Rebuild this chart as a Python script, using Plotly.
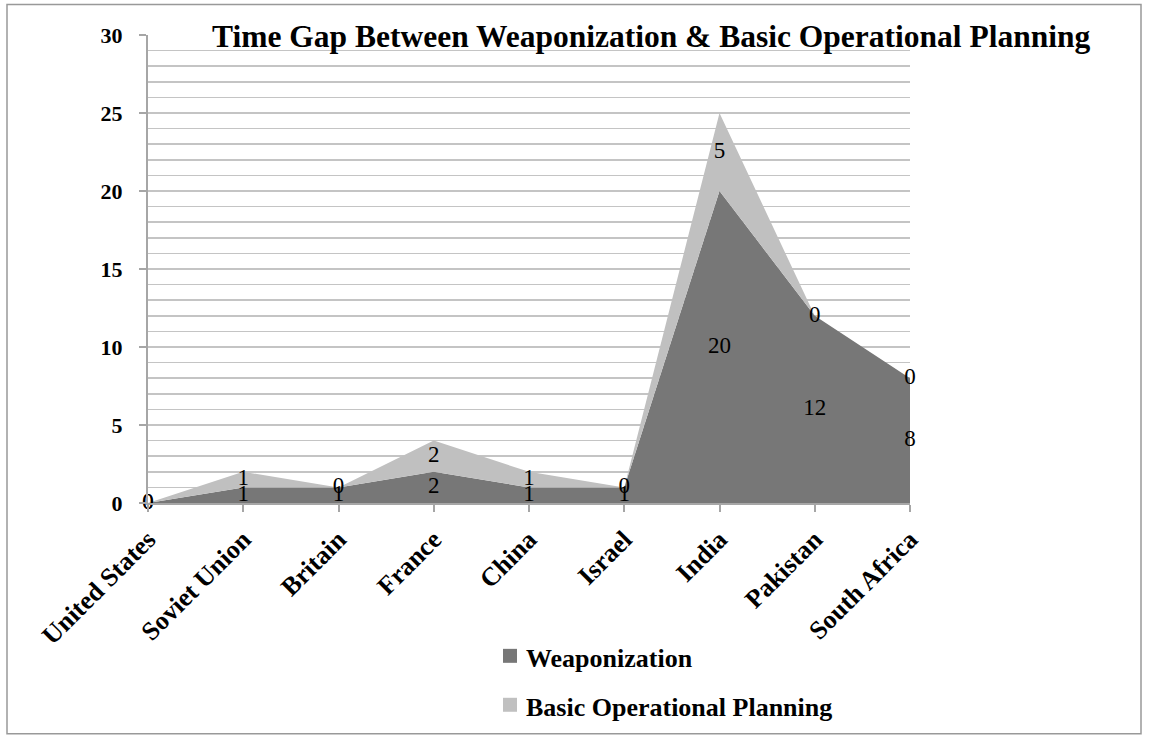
import plotly.graph_objects as go

countries = ["United States", "Soviet Union", "Britain", "France", "China",
             "Israel", "India", "Pakistan", "South Africa"]
weaponization = [0, 1, 1, 2, 1, 1, 20, 12, 8]
basic_planning = [0, 1, 0, 2, 1, 0, 5, 0, 0]
series_names = ["Weaponization", "Basic Operational Planning"]
y_ticks = [0, 5, 10, 15, 20, 25, 30]

FONT = "Liberation Serif"
DARK = "#777777"
LIGHT = "#c0c0c0"
GRID = "#c4c4c4"
AXIS = "#a6a6a6"

xs = list(range(len(countries)))

fig = go.Figure()
fig.add_trace(go.Scatter(x=xs, y=weaponization, stackgroup="s", mode="none",
                         fillcolor=DARK, name=series_names[0], showlegend=False,
                         hoverinfo="skip"))
fig.add_trace(go.Scatter(x=xs, y=basic_planning, stackgroup="s", mode="none",
                         fillcolor=LIGHT, name=series_names[1],
                         showlegend=False, hoverinfo="skip"))

# data labels centred in each band
w_mid = [w / 2 for w in weaponization]
b_mid = [w + b / 2 for w, b in zip(weaponization, basic_planning)]
lab_font = dict(family=FONT, size=23, color="black")
fig.add_trace(go.Scatter(x=xs, y=w_mid, mode="text", text=[str(v) for v in weaponization],
                         textfont=lab_font, showlegend=False, hoverinfo="skip",
                         cliponaxis=False))
fig.add_trace(go.Scatter(x=xs, y=b_mid, mode="text", text=[str(v) for v in basic_planning],
                         textfont=lab_font, showlegend=False, hoverinfo="skip",
                         cliponaxis=False))

W, H = 1149, 736
L, T = 148, 34.5
PR, PB = 910, 503
R, B = W - PR, H - PB
pw = PR - L
ph = PB - T


def px(x):
    return (x - L) / pw


def py(y):
    return (PB - y) / ph


# legend drawn as swatches + labels (kept inside the figure so it does not
# push the plot margins)
legend_rows = [(656, DARK, series_names[0]), (705, LIGHT, series_names[1])]
shapes = [dict(type="rect", xref="paper", yref="paper",
               x0=px(7), x1=px(1141), y0=py(734), y1=py(4),
               line=dict(color="#999999", width=1.5), fillcolor="rgba(0,0,0,0)",
               layer="below")]
annotations = [dict(text="<b>Time Gap Between Weaponization &amp; Basic Operational Planning</b>",
                    xref="paper", yref="paper", x=px(651), y=py(36),
                    xanchor="center", yanchor="middle", showarrow=False,
                    font=dict(family=FONT, size=31.5, color="black"))]
for cy, col, name in legend_rows:
    shapes.append(dict(type="rect", xref="paper", yref="paper",
                       x0=px(503), x1=px(517), y0=py(cy + 7), y1=py(cy - 7),
                       line=dict(width=0), fillcolor=col))
    annotations.append(dict(text=f"<b>{name}</b>", xref="paper", yref="paper",
                            x=px(524), y=py(cy + 3), xanchor="left", yanchor="middle",
                            showarrow=False,
                            font=dict(family=FONT, size=26, color="black")))

fig.update_layout(
    width=W, height=H,
    margin=dict(l=L, r=R, t=T, b=B, pad=0),
    paper_bgcolor="white", plot_bgcolor="white",
    font=dict(family=FONT, size=22, color="black"),
    showlegend=False,
    xaxis=dict(range=[0, 8], tickvals=xs, ticktext=countries, tickangle=-45,
               showgrid=False, zeroline=False, showline=True, linecolor=AXIS,
               linewidth=2, ticks="outside", ticklen=7, tickcolor=AXIS,
               tickwidth=2, ticklabelstandoff=2,
               tickfont=dict(family=FONT, size=26, color="black", weight="bold")),
    yaxis=dict(range=[0, 30], tickvals=y_ticks, showgrid=True, gridcolor=GRID,
               gridwidth=1.5, zeroline=False, showline=True, linecolor=AXIS,
               linewidth=2, ticks="outside", ticklen=7, tickcolor=AXIS,
               tickwidth=2, ticklabelstandoff=12,
               minor=dict(dtick=1, showgrid=True, gridcolor=GRID, gridwidth=1.5,
                          ticks=""),
               tickfont=dict(family=FONT, size=22, color="black", weight="bold")),
    shapes=shapes,
    annotations=annotations,
)

fig.write_html(
    "out.html",
    config={"displayModeBar": False, "staticPlot": True},
    post_script=("document.body.style.margin='0';"
                 "document.body.style.overflow='hidden';"
                 "document.documentElement.style.overflow='hidden';"),
)
